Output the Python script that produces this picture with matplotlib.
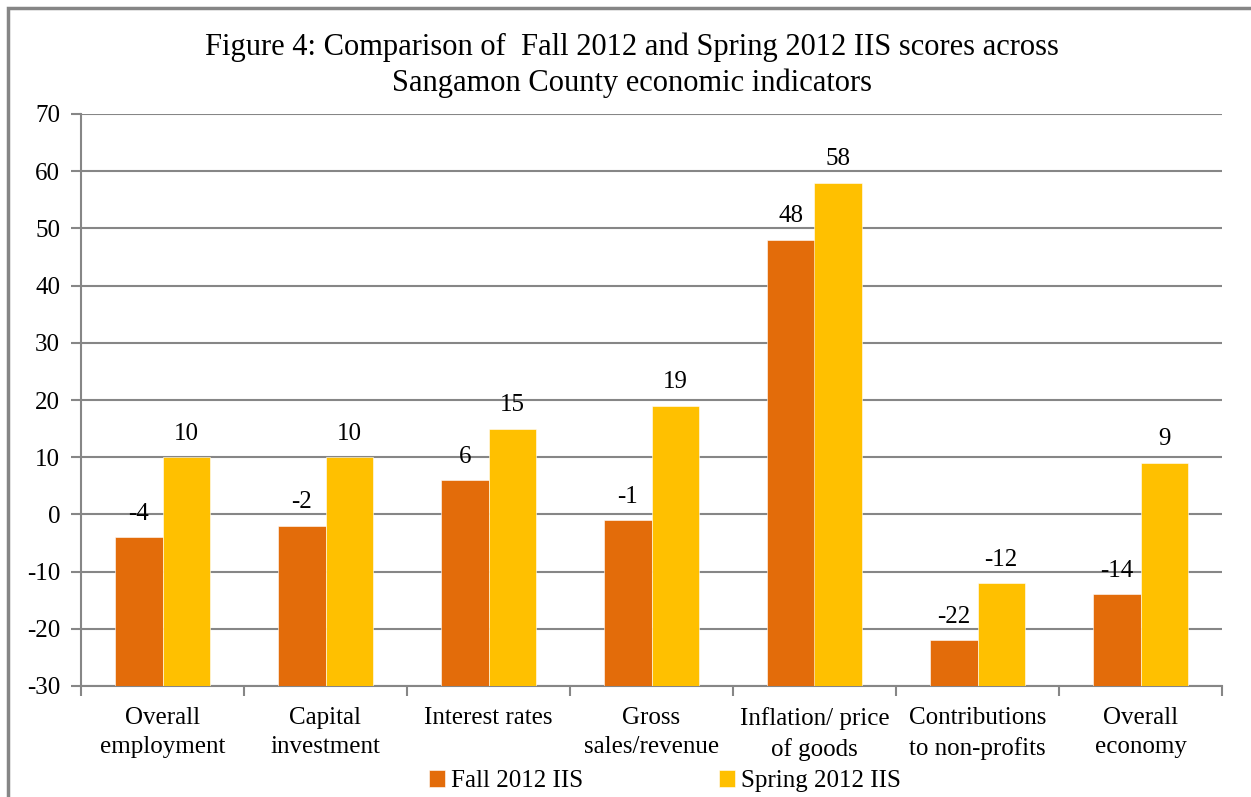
import numpy as np
import matplotlib
matplotlib.use("Agg")
import matplotlib.pyplot as plt
from matplotlib.patches import Rectangle

CATEGORIES = ["Overall\nemployment", "Capital\ninvestment", "Interest rates",
              "Gross\nsales/revenue", "Inflation/ price\nof goods",
              "Contributions\nto non-profits", "Overall\neconomy"]
FALL = [-4, -2, 6, -1, 48, -22, -14]
SPRING = [10, 10, 15, 19, 58, -12, 9]
SERIES = ["Fall 2012 IIS", "Spring 2012 IIS"]
COLORS = ["#E36C0A", "#FFC000"]
YMIN, YMAX = -30, 70

plt.rcParams['font.family'] = ['Liberation Serif', 'DejaVu Serif']
plt.rcParams['axes.unicode_minus'] = False

fig = plt.figure(figsize=(12.51, 7.97), dpi=100)
ax = fig.add_axes([81 / 1251, 1 - 686 / 797, (1222 - 81) / 1251, (686 - 114) / 797])

# frame around the chart (top and left visible)
fig.patches.append(Rectangle((8 / 1251, -0.1), 1.2, 1.1 - 8 / 797,
                             transform=fig.transFigure, fill=False,
                             edgecolor="#868686", linewidth=2.5))

x = np.arange(len(CATEGORIES))
w = 0.29
grey = "#868686"

for i, (vals, col, lab) in enumerate(zip([FALL, SPRING], COLORS, SERIES)):
    pos = x + (i - 0.5) * w
    heights = np.array(vals) - YMIN
    ax.bar(pos, heights, w, bottom=YMIN, color=col, label=lab,
           edgecolor="white", linewidth=0.4, zorder=3)
    for p, v in zip(pos, vals):
        ax.annotate(str(v), (p, v), xytext=(0, 9), textcoords="offset points",
                    ha="center", va="bottom", fontsize=18)

ax.set_ylim(YMIN, YMAX)
ax.set_xlim(-0.5, len(CATEGORIES) - 0.5)
ax.set_yticks(np.arange(YMIN, YMAX + 1, 10))
ax.yaxis.grid(True, color=grey, linewidth=1.5, zorder=0)
ax.set_axisbelow(True)

ax.set_xticks(np.arange(-0.5, len(CATEGORIES)), minor=False)
ax.set_xticklabels([])
ax.set_xticks(x, minor=True)
ax.set_xticklabels(CATEGORIES, minor=True, fontsize=18, linespacing=1.45)
ax.tick_params(axis="x", which="minor", length=0, pad=15)
ax.tick_params(axis="x", which="major", length=7, width=1.5, color=grey)
ax.tick_params(axis="y", length=7, width=1.5, color=grey, labelsize=18, pad=8)

for s in ["top", "right"]:
    ax.spines[s].set_visible(False)
for s in ["left", "bottom"]:
    ax.spines[s].set_color(grey)
    ax.spines[s].set_linewidth(1.5)

fig.text(632 / 1251, 1 - 65 / 797,
         "Figure 4: Comparison of  Fall 2012 and Spring 2012 IIS scores across\n"
         "Sangamon County economic indicators",
         ha="center", va="center", fontsize=22, linespacing=1.3)

fig.legend(loc="center", bbox_to_anchor=(665 / 1251, 1 - 781 / 797), ncol=2,
           frameon=False, fontsize=18, handlelength=0.65, handleheight=0.65,
           handletextpad=0.25, columnspacing=5.4)

fig.savefig("out.png", dpi=100)
